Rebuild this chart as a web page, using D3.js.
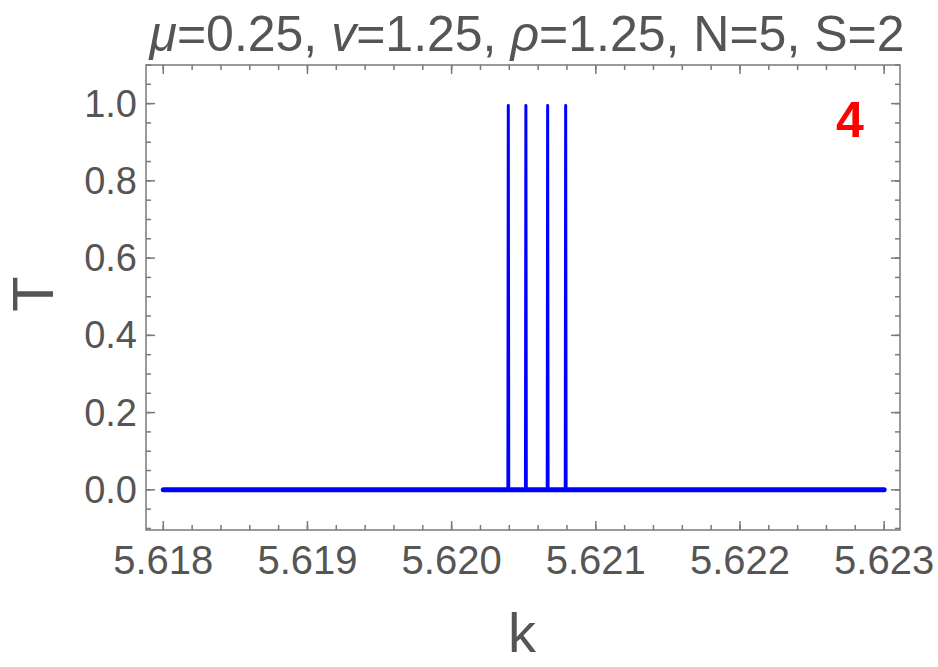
<!DOCTYPE html>
<html>
<head>
<meta charset="utf-8">
<script src="https://cdn.jsdelivr.net/npm/d3@7"></script>
<style>
  body { margin: 0; background: #fff; }
  text { font-family: "Liberation Sans", Arial, sans-serif; }
</style>
</head>
<body>
<div id="chart"></div>
<script>
// Transmission T(k): four narrow resonances, zero elsewhere
var kValues = [5.618, 5.620390, 5.620393, 5.620396, 5.620512, 5.620515, 5.620518,
               5.620663, 5.620666, 5.620669, 5.620788, 5.620791, 5.620794, 5.623];
var tValues = [0, 0, 0.995, 0, 0, 0.995, 0, 0, 0.995, 0, 0, 0.995, 0, 0];

var xMajor = [5.618, 5.619, 5.620, 5.621, 5.622, 5.623];
var yMajor = [0.0, 0.2, 0.4, 0.6, 0.8, 1.0];
var xMinorStep = 0.0002;
var yMinorStep = 0.05;

var panelLabel = "4";

var W = 938, H = 667;
var margin = {top: 65, right: 38, bottom: 137, left: 146};
var width = W - margin.left - margin.right;
var height = H - margin.top - margin.bottom;

var data = kValues.map(function (k, i) { return {k: k, t: tValues[i]}; });

var x = d3.scaleLinear().domain([5.61788, 5.62311]).range([0, width]);
var y = d3.scaleLinear().domain([-0.104, 1.1]).range([height, 0]);

var svg = d3.select("#chart").append("svg")
    .attr("width", W).attr("height", H)
    .append("g")
    .attr("transform", "translate(" + margin.left + "," + margin.top + ")");

// minor tick positions
var xMinor = d3.range(0, 30).map(function (i) { return +(5.6178 + i * xMinorStep).toFixed(4); })
    .filter(function (v) { return v >= x.domain()[0] && v <= x.domain()[1]; });
var yMinor = d3.range(-2, 23).map(function (i) { return +(i * yMinorStep).toFixed(2); })
    .filter(function (v) { return v >= y.domain()[0] && v <= y.domain()[1]; });

var frameColor = "#7a7a7a";
var labelColor = "#555555";

// ticks on all four sides
function drawTicks(vals, len) {
    vals.forEach(function (v) {
        var px = x(v);
        svg.append("line").attr("x1", px).attr("x2", px).attr("y1", height).attr("y2", height - len)
            .attr("stroke", frameColor).attr("stroke-width", 1.5);
        svg.append("line").attr("x1", px).attr("x2", px).attr("y1", 0).attr("y2", len)
            .attr("stroke", frameColor).attr("stroke-width", 1.5);
    });
}
function drawYTicks(vals, len) {
    vals.forEach(function (v) {
        var py = y(v);
        svg.append("line").attr("x1", 0).attr("x2", len).attr("y1", py).attr("y2", py)
            .attr("stroke", frameColor).attr("stroke-width", 1.5);
        svg.append("line").attr("x1", width).attr("x2", width - len).attr("y1", py).attr("y2", py)
            .attr("stroke", frameColor).attr("stroke-width", 1.5);
    });
}
drawTicks(xMinor, 5);
drawTicks(xMajor, 9);
drawYTicks(yMinor, 5);
drawYTicks(yMajor, 9);

// frame
svg.append("rect")
    .attr("x", 0).attr("y", 0).attr("width", width).attr("height", height)
    .attr("fill", "none").attr("stroke", frameColor).attr("stroke-width", 1.5);

// tick labels
svg.selectAll(".xlab").data(xMajor).enter().append("text")
    .attr("x", function (d) { return x(d); })
    .attr("y", height + 44)
    .attr("text-anchor", "middle")
    .attr("fill", labelColor)
    .style("font-size", "40px")
    .text(function (d) { return d.toFixed(3); });

svg.selectAll(".ylab").data(yMajor).enter().append("text")
    .attr("x", -9)
    .attr("y", function (d) { return y(d) + 13; })
    .attr("text-anchor", "end")
    .attr("fill", labelColor)
    .style("font-size", "38px")
    .text(function (d) { return d.toFixed(1); });

// curve
var line = d3.line()
    .x(function (d) { return x(d.k); })
    .y(function (d) { return y(d.t); });

svg.append("path")
    .datum(data)
    .attr("fill", "none")
    .attr("stroke", "#0000ff")
    .attr("stroke-width", 3)
    .attr("stroke-linejoin", "round")
    .attr("d", line);

// baseline part drawn a bit heavier, as in the original
svg.append("path")
    .datum(data)
    .attr("fill", "none")
    .attr("stroke", "#0000ff")
    .attr("stroke-width", 5)
    .attr("stroke-linecap", "round")
    .attr("d", line.defined(function (d) { return d.t < 0.01; }));

// panel number
svg.append("text")
    .attr("x", 850 - margin.left)
    .attr("y", 137 - margin.top)
    .attr("text-anchor", "middle")
    .attr("fill", "#ff0000")
    .style("font-size", "50px")
    .style("font-weight", "bold")
    .text(panelLabel);

// axis titles
svg.append("text")
    .attr("x", 522 - margin.left)
    .attr("y", 652 - margin.top)
    .attr("text-anchor", "middle")
    .attr("fill", labelColor)
    .style("font-size", "56px")
    .text("k");

svg.append("text")
    .attr("transform", "translate(" + (53 - margin.left) + "," + (294 - margin.top) + ")rotate(-90)")
    .attr("text-anchor", "middle")
    .attr("fill", labelColor)
    .style("font-size", "58px")
    .text("T");

// title
var title = svg.append("text")
    .attr("x", width / 2 + 4)
    .attr("y", 51 - margin.top)
    .attr("text-anchor", "middle")
    .attr("fill", labelColor)
    .style("font-size", "50px")
    .attr("textLength", 755)
    .attr("lengthAdjust", "spacingAndGlyphs");
var parts = [["\u03bc", true], ["=0.25, ", false], ["v", true], ["=1.25, ", false],
             ["\u03c1", true], ["=1.25, N=5, S=2", false]];
parts.forEach(function (p) {
    title.append("tspan").style("font-style", p[1] ? "italic" : "normal").text(p[0]);
});
</script>
</body>
</html>
